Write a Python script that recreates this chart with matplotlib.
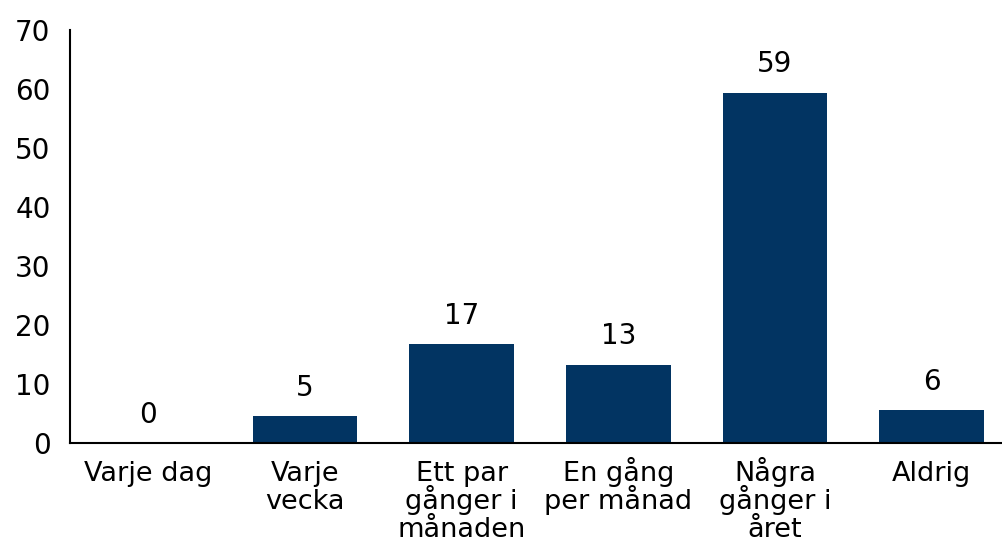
import numpy as np
import matplotlib
matplotlib.use('Agg')
import matplotlib.pyplot as plt
from matplotlib.transforms import blended_transform_factory

categories = ['Varje dag', 'Varje\nvecka', 'Ett par\ngånger i\nmånaden', 'En gång\nper månad',
              'Några\ngånger i\nåret', 'Aldrig']
values = [0.0, 4.6, 16.7, 13.3, 59.4, 5.6]
labels = ['0', '5', '17', '13', '59', '6']

plt.rcParams['font.family'] = ['DejaVu Sans']

W, H = 1003, 543
fig = plt.figure(figsize=(W / 100, H / 100), dpi=100)
ax = fig.add_axes([70 / W, 1 - 443 / H, 940 / W, (443 - 30) / H])

x = np.arange(len(categories))
ax.bar(x, values, width=0.67, color='#023462')
for xi, v, lab in zip(x, values, labels):
    ax.text(xi, v + 2.4, lab, ha='center', va='bottom', fontsize=20)

ax.set_xlim(-0.5, len(categories) - 0.5)
ax.set_ylim(0, 70)
ax.set_yticks(range(0, 71, 10))
ax.set_xticks(x)
ax.set_xticklabels([])
ax.tick_params(axis='y', length=0, labelsize=20, pad=14)
ax.tick_params(axis='x', length=0)

# category labels, one line at a time so the baselines stay evenly spaced
trans = blended_transform_factory(ax.transData, fig.transFigure)
for xi, cat in zip(x, categories):
    for j, line in enumerate(cat.split('\n')):
        ax.text(xi, 1 - (481 + 28 * j) / H, line, transform=trans,
                ha='center', va='baseline', fontsize=19.5, clip_on=False)

for s in ['top', 'right']:
    ax.spines[s].set_visible(False)
ax.spines['left'].set_linewidth(1.5)
ax.spines['bottom'].set_linewidth(1.5)

fig.savefig('out.png', dpi=100)
